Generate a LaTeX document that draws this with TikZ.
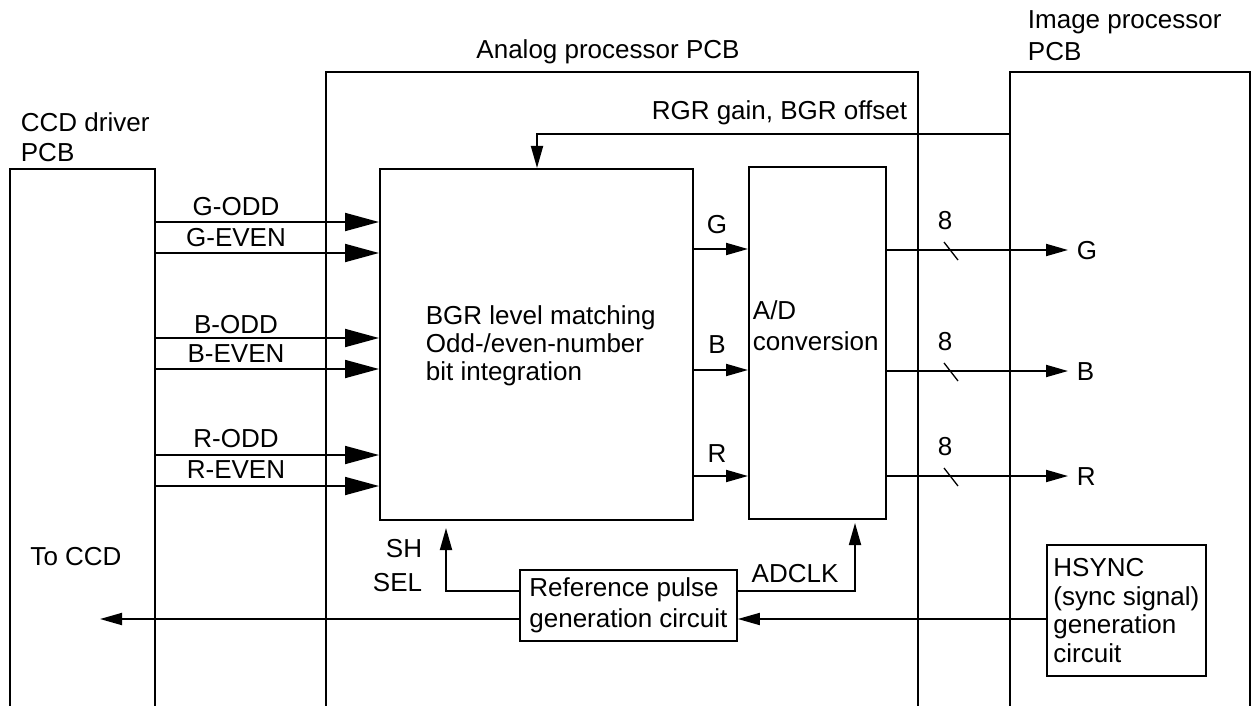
\documentclass[tikz,border=0pt]{standalone}
\usepackage{fontspec}
\setmainfont{Liberation Sans}
\usetikzlibrary{arrows.meta}
\begin{document}
\begin{tikzpicture}[x=1pt,y=-1pt, line width=1.8pt,
  lbl/.style={font=\fontsize{26}{29}\selectfont, inner sep=0pt},
  blk/.style={draw, inner sep=0pt, anchor=north west},
  big/.style={-{Triangle[length=34pt,width=18pt]}},
  sm/.style={-{Triangle[length=22pt,width=12pt]}}]
\useasboundingbox (0,0) rectangle (1253,706);
% PCB outlines
\coordinate (ccdTL) at (10,169);
\coordinate (ccdTR) at (155,169);
\coordinate (anTL) at (326,72);
\coordinate (anTR) at (918,72);
\coordinate (ipTL) at (1010,72);
\coordinate (ipTR) at (1250,72);
\draw (ccdTL |- 0,706) -- (ccdTL) -- (ccdTR) -- (ccdTR |- 0,706);
\draw (anTL |- 0,706) -- (anTL) -- (anTR) -- (anTR |- 0,706);
\draw (ipTL |- 0,706) -- (ipTL) -- (ipTR) -- (ipTR |- 0,706);
\node[lbl, anchor=west, align=left] (ccdT1) at (20,122) {CCD driver};
\node[lbl, anchor=west, align=left] (ccdT2) at (20,153) {PCB};
\node[lbl] (anT) at (608,52) {Analog processor PCB};
\node[lbl, anchor=west] (ipT1) at (1027,22) {Image processor};
\node[lbl, anchor=west] (ipT2) at (1027,52) {PCB};
% blocks
\node[blk, minimum width=313pt, minimum height=351pt] (bgr) at (379,168) {};
\node[lbl, anchor=west, align=left, font=\fontsize{26}{28}\selectfont] (bgrT) at (425,346)
  {BGR level matching\\Odd-/even-number\\bit integration};
\node[blk, minimum width=137pt, minimum height=352pt] (ad) at (748,166) {};
\node[lbl, anchor=west, align=left, font=\fontsize{26}{31}\selectfont] (adT) at (752,326)
  {A/D\\conversion};
\node[blk, minimum width=217pt, minimum height=71pt, align=left, font=\fontsize{26}{31}\selectfont] (ref) at (519,569)
  {Reference pulse\\generation circuit};
\node[blk, minimum width=159pt, minimum height=131pt, align=left, font=\fontsize{26}{28.5}\selectfont] (hs) at (1046,544)
  {HSYNC\\(sync signal)\\generation\\circuit};
% left inputs
\foreach \y/\t/\ly in {222/G-ODD/207, 253/G-EVEN/238, 338/B-ODD/325, 369/B-EVEN/354, 455/R-ODD/439, 486/R-EVEN/470}{
  \draw[big] (ccdTR |- 0,\y) -- (bgr.west |- 0,\y);
  \node[lbl] at (236,\ly) {\t};
}
% BGR -> A/D
\foreach \y/\t/\ly in {249/G/225, 370/B/345, 476/R/454}{
  \draw[sm] (bgr.east |- 0,\y) -- (ad.west |- 0,\y);
  \node[lbl] at (717,\ly) {\t};
}
% outputs
\foreach \y/\t in {250/G, 371/B, 476/R}{
  \coordinate (o\t) at (1068,\y);
  \draw[sm] (ad.east |- 0,\y) -- (o\t);
  \node[lbl, anchor=west] at (1076,\y+1) {\t};
  \draw[line width=1.3pt] (944,\y-8) -- (958,\y+10);
  \node[lbl] at (945,\y-29) {8};
}
% feedback
\coordinate (fb) at (537,134);
\draw[sm] (ipTL |- fb) -- (fb) -- (fb |- bgr.north);
\node[lbl, anchor=east] at (908,113) {RGR gain, BGR offset};
% SH SEL
\coordinate (sh) at (446,591);
\draw[sm] (ref.west |- sh) -- (sh) -- (446,528);
\node[lbl, anchor=east] at (423,549) {SH};
\node[lbl, anchor=east] at (423,583) {SEL};
% ADCLK
\coordinate (ck) at (855,591);
\draw[sm] (ref.east |- ck) -- (ck) -- (855,523);
\node[lbl] at (795,574) {ADCLK};
% To CCD
\coordinate (toccd) at (100,619);
\draw[sm] (ref.west |- toccd) -- (toccd);
\node[lbl] at (76,557) {To CCD};
% HSYNC -> ref
\draw[sm] (hs.west |- toccd) -- (ref.east |- toccd);
\end{tikzpicture}
\end{document}
